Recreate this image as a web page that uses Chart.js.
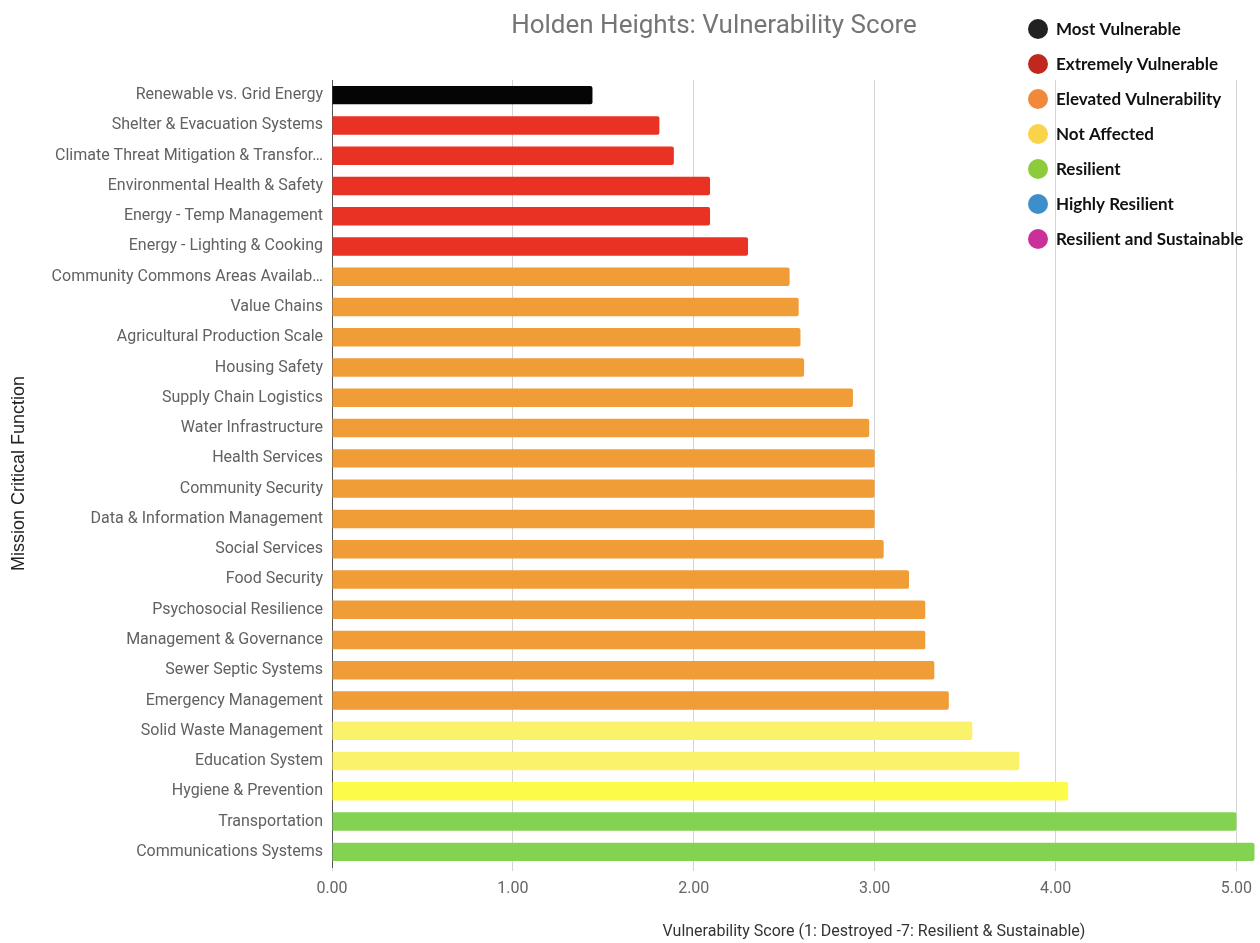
<!DOCTYPE html>
<html>
<head>
<meta charset="utf-8">
<script src="https://cdn.jsdelivr.net/npm/chart.js@4.4.1/dist/chart.umd.min.js"></script>
<style>
  html, body { margin: 0; padding: 0; background: #ffffff; }
  #wrap { width: 1260px; height: 943px; position: relative; }
</style>
</head>
<body>
<div id="wrap"><canvas id="c" width="1260" height="943"></canvas></div>
<script>
const chartTitle = "Holden Heights: Vulnerability Score";
const xAxisTitle = "Vulnerability Score (1: Destroyed -7: Resilient & Sustainable)";
const yAxisTitle = "Mission Critical Function";

const categories = [
  "Renewable vs. Grid Energy",
  "Shelter & Evacuation Systems",
  "Climate Threat Mitigation & Transfor\u2026",
  "Environmental Health & Safety",
  "Energy - Temp Management",
  "Energy - Lighting & Cooking",
  "Community Commons Areas Availab\u2026",
  "Value Chains",
  "Agricultural Production Scale",
  "Housing Safety",
  "Supply Chain Logistics",
  "Water Infrastructure",
  "Health Services",
  "Community Security",
  "Data & Information Management",
  "Social Services",
  "Food Security",
  "Psychosocial Resilience",
  "Management & Governance",
  "Sewer Septic Systems",
  "Emergency Management",
  "Solid Waste Management",
  "Education System",
  "Hygiene & Prevention",
  "Transportation",
  "Communications Systems"
];

const scores = [
  1.44, 1.81, 1.89, 2.09, 2.09, 2.30,
  2.53, 2.58, 2.59, 2.61, 2.88, 2.97, 3.00, 3.00, 3.00,
  3.05, 3.19, 3.28, 3.28, 3.33, 3.41,
  3.54, 3.80, 4.07,
  5.00, 5.10
];

const barColors = [
  "#050505",
  "#E93223", "#E93223", "#E93223", "#E93223", "#E93223",
  "#F19D37", "#F19D37", "#F19D37", "#F19D37", "#F19D37",
  "#F19D37", "#F19D37", "#F19D37", "#F19D37", "#F19D37",
  "#F19D37", "#F19D37", "#F19D37", "#F19D37", "#F19D37",
  "#FBF26B", "#FBF26B", "#FDFB4A",
  "#83D252", "#83D252"
];

const xTickValues = [0, 1, 2, 3, 4, 5];

const legendLabels = [
  "Most Vulnerable",
  "Extremely Vulnerable",
  "Elevated Vulnerability",
  "Not Affected",
  "Resilient",
  "Highly Resilient",
  "Resilient and Sustainable"
];
const legendColors = [
  "#222222", "#C0281E", "#F0893A", "#F9D44A", "#8DCB3B", "#3D8FCB", "#C9309A"
];

const textPlugin = {
  id: "customTexts",
  afterDraw(chart) {
    const ctx = chart.ctx;
    ctx.save();
    // chart title
    ctx.font = "26px Roboto";
    ctx.fillStyle = "#757575";
    ctx.textAlign = "center";
    ctx.textBaseline = "alphabetic";
    ctx.fillText(chartTitle, 714, 33);
    // x axis title
    ctx.font = "16px Roboto";
    ctx.fillStyle = "#333333";
    ctx.textAlign = "center";
    ctx.textBaseline = "middle";
    ctx.fillText(xAxisTitle, 874, 932);
    // legend
    legendLabels.forEach((lab, i) => {
      const y = 29 + i * 35;
      ctx.beginPath();
      ctx.arc(1038, y, 10, 0, Math.PI * 2);
      ctx.fillStyle = legendColors[i];
      ctx.fill();
      ctx.font = "bold 17px Lato";
      ctx.fillStyle = "#111111";
      ctx.textAlign = "left";
      ctx.textBaseline = "middle";
      ctx.fillText(lab, 1056, y + 1);
    });
    ctx.restore();
  }
};

new Chart(document.getElementById("c"), {
  type: "bar",
  data: {
    labels: categories,
    datasets: [{
      label: "Vulnerability Score",
      data: scores,
      backgroundColor: barColors,
      borderWidth: 0,
      borderRadius: 2,
      barPercentage: 0.61,
      categoryPercentage: 1.0
    }]
  },
  options: {
    indexAxis: "y",
    responsive: false,
    animation: false,
    layout: { padding: { top: 80, right: 0, bottom: 0, left: 0 } },
    plugins: {
      legend: { display: false },
      title: { display: false },
      tooltip: { enabled: false }
    },
    scales: {
      x: {
        type: "linear",
        min: 0,
        max: 5.127,
        afterFit(scale) { scale.height = 76; },
        afterBuildTicks(scale) { scale.ticks = xTickValues.map(v => ({ value: v })); },
        ticks: {
          callback: v => Number(v).toFixed(2),
          color: "#666666",
          font: { family: "Roboto", size: 16 },
          padding: 8,
          maxRotation: 0
        },
        grid: {
          color: "#d4d4d4",
          lineWidth: 1,
          drawTicks: true,
          tickLength: 4
        },
        border: { display: false },
        title: { display: false }
      },
      y: {
        type: "category",
        afterFit(scale) { scale.width = 332; },
        ticks: {
          autoSkip: false,
          color: "#616161",
          font: { family: "Roboto", size: 16 },
          padding: 1
        },
        grid: { display: false },
        border: { display: true, color: "#555555", width: 1 },
        title: {
          display: true,
          text: yAxisTitle,
          color: "#222222",
          font: { family: "Liberation Sans", size: 18 },
          padding: { top: 8, bottom: 0 }
        }
      }
    }
  },
  plugins: [textPlugin]
});
</script>
</body>
</html>
